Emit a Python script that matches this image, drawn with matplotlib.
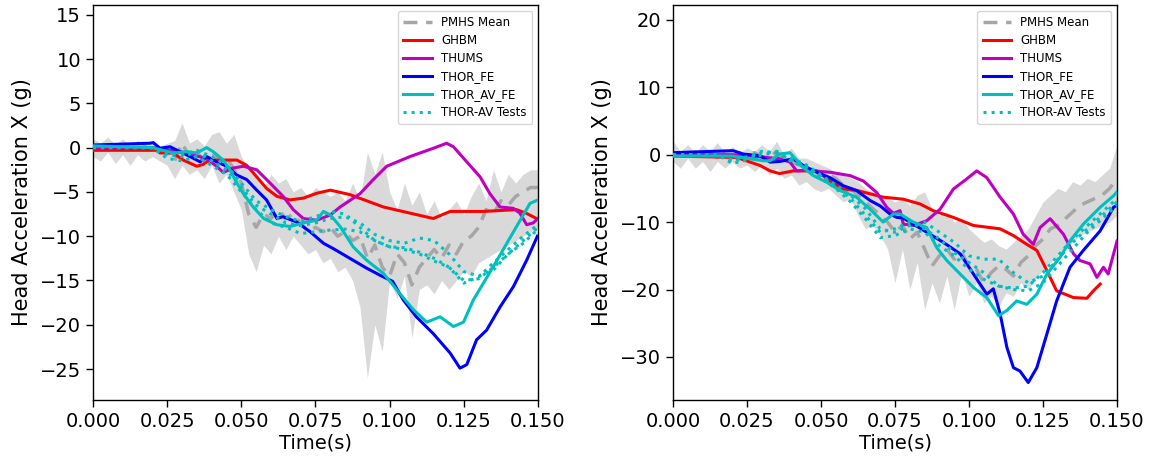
import numpy as np
import matplotlib
matplotlib.use("Agg")
import matplotlib.pyplot as plt

# ---------------- common ----------------
band_t = np.round(np.arange(0, 0.15001, 0.0025), 4)
test_t = np.round(np.arange(0, 0.15001, 0.005), 4)

# ---------------- LEFT PANEL ----------------
L_band_hi = [1.0, 0.5, 1.2, 0.3, 1.0, 0.2, 0.8, 0.3, 0.6, 0.2, 0.5, 0.8, 2.8, 0.5, 1.0, 0.2,
             1.5, 1.8, 0.5, 1.5, -1.0, -2.5, -3.0, -4.5, -3.0, -4.0, -3.5, -5.0, -4.5, -5.5,
             -4.5, -5.0, -5.5, -5.0, -6.0, -4.0, -6.0, -0.5, -3.0, -0.5, -5.0, -7.0, -4.0,
             -6.5, -5.0, -7.5, -6.0, -8.0, -7.0, -6.0, -7.5, -5.5, -4.0, -6.0, -2.5, -5.0,
             -3.0, -4.0, -3.0, -2.5, -2.5]
L_band_lo = [-1.0, -1.5, -0.5, -1.8, -0.8, -2.0, -0.8, -1.5, -1.0, -1.5, -2.0, -3.5, -2.0,
             -3.0, -2.5, -3.5, -2.0, -4.0, -3.0, -5.0, -7.0, -12.0, -14.0, -11.0, -12.0,
             -10.0, -11.5, -10.0, -11.0, -12.0, -11.5, -13.0, -12.5, -14.0, -13.5, -15.0,
             -18.0, -26.0, -20.0, -23.0, -15.0, -17.0, -14.5, -21.5, -16.0, -15.5, -16.5,
             -15.0, -16.0, -15.0, -14.0, -14.5, -13.0, -12.5, -12.0, -11.5, -11.0, -10.5,
             -10.0, -9.5, -9.0]
L_mean = [0.0, 0.2, -0.2, 0.1, -0.2, 0.2, -0.1, 0.1, -0.2, -0.3, -0.5, -1.5, 0.5, -1.0,
          -0.5, -1.5, -0.5, -1.5, -1.0, -2.5, -4.0, -7.5, -9.0, -7.5, -8.0, -7.0, -8.0,
          -7.5, -8.5, -9.5, -9.0, -9.5, -9.0, -10.0, -9.5, -10.5, -10.0, -12.5, -11.0,
          -13.5, -14.5, -12.0, -13.0, -15.5, -13.5, -12.5, -11.5, -12.5, -11.0, -12.0,
          -10.5, -10.0, -9.0, -7.0, -7.5, -6.0, -6.5, -5.5, -5.0, -4.5, -4.5]

L_ghbm_t = [0, 0.01, 0.0215, 0.0226, 0.027, 0.0304, 0.035, 0.037, 0.0394, 0.0438, 0.0485,
            0.0518, 0.0552, 0.0585, 0.062, 0.0664, 0.0709, 0.0754, 0.080, 0.0866, 0.0979,
            0.1147, 0.1204, 0.1316, 0.1428, 0.146, 0.1495]
L_ghbm_y = [-0.3, -0.3, -0.3, -0.6, -0.6, -1.4, -2.1, -1.9, -1.4, -1.4, -1.4, -2.0, -3.3,
            -4.6, -5.5, -5.9, -5.7, -5.15, -4.8, -5.3, -6.7, -8.0, -7.2, -7.2, -7.0, -7.4, -8.0]

L_thums_t = [0, 0.02, 0.03, 0.038, 0.0417, 0.0439, 0.0473, 0.0507, 0.0552, 0.0597, 0.0641,
             0.0675, 0.0709, 0.0754, 0.080, 0.0833, 0.090, 0.0945, 0.099, 0.1069, 0.1147,
             0.1192, 0.1215, 0.126, 0.1305, 0.1338, 0.1372, 0.1417, 0.1439, 0.1462, 0.1484, 0.150]
L_thums_y = [0, 0, -0.5, -1.2, -2.1, -2.8, -2.3, -2.1, -2.5, -4.0, -5.5, -7.0, -8.0, -8.2,
             -7.6, -6.7, -5.2, -3.6, -2.1, -1.0, -0.07, 0.5, 0.1, -1.6, -3.3, -5.2, -6.7,
             -6.85, -7.4, -8.7, -8.5, -8.0]

L_fe_t = [0, 0.0192, 0.0203, 0.0226, 0.026, 0.0293, 0.0327, 0.0361, 0.0383, 0.0417, 0.0451,
          0.0485, 0.0518, 0.0552, 0.0585, 0.062, 0.064, 0.0687, 0.0732, 0.0777, 0.081,
          0.0866, 0.0922, 0.0967, 0.101, 0.1046, 0.109, 0.1147, 0.1204, 0.1237, 0.126,
          0.1293, 0.1327, 0.1372, 0.1417, 0.1462, 0.1498]
L_fe_y = [0.3, 0.5, 0.57, -0.07, 0.1, -0.45, -1.0, -1.6, -1.0, -1.6, -2.1, -3.1, -3.6, -4.8,
          -5.9, -8.0, -7.8, -8.4, -9.5, -10.8, -11.4, -12.5, -13.6, -14.4, -15.1, -17.2,
          -19.1, -21.0, -23.2, -24.9, -24.5, -21.7, -20.6, -18.0, -15.7, -12.7, -10.0]

L_av_t = [0, 0.02, 0.027, 0.0315, 0.035, 0.0383, 0.0405, 0.0439, 0.0462, 0.0485, 0.0507,
          0.054, 0.0575, 0.062, 0.0664, 0.0709, 0.0754, 0.0777, 0.080, 0.0833, 0.0877,
          0.0922, 0.0979, 0.1035, 0.108, 0.1125, 0.117, 0.1215, 0.1249, 0.1282, 0.1316,
          0.135, 0.1395, 0.144, 0.1473, 0.150]
L_av_y = [0.2, 0.0, -0.6, -0.45, -0.6, 0.0, -0.45, -1.4, -2.5, -4.0, -5.2, -6.7, -8.0, -8.7,
          -8.9, -8.5, -8.2, -7.2, -7.6, -8.9, -11.2, -12.7, -14.2, -16.5, -18.3, -19.7,
          -19.1, -20.2, -19.7, -17.2, -15.3, -13.4, -10.8, -8.2, -6.3, -5.9]

L_test1 = [0, 0, 0, 0, 0, -0.8, -1.0, -0.5, -1.5, -2.5, -4.5, -6.5, -7.5, -8.5, -8.8, -8.5,
           -8.0, -7.8, -8.5, -9.8, -10.5, -10.8, -10.2, -10.5, -12.0, -14.0, -14.5, -13.8,
           -12.0, -10.5, -9.0]
L_test2 = [0, 0, 0, 0, 0, -1.2, -1.5, -1.0, -2.0, -3.0, -5.0, -7.0, -8.5, -9.0, -9.7, -9.5,
           -9.3, -9.2, -9.5, -10.5, -11.2, -11.5, -12.0, -12.8, -13.5, -15.0, -14.8, -13.5,
           -12.0, -10.8, -9.2]
L_test3 = [0, 0, 0, 0, 0, -0.5, -0.8, -0.3, -1.0, -2.0, -4.0, -6.0, -7.0, -7.8, -8.3, -7.8,
           -7.2, -7.5, -9.0, -10.5, -11.2, -11.3, -11.8, -12.5, -13.5, -15.3, -14.6, -13.0,
           -11.5, -10.0, -8.7]

# ---------------- RIGHT PANEL ----------------
R_band_hi = [2.0, 0.5, 1.5, 0.3, 1.5, 0.5, 1.8, 0.3, 1.2, 0.3, 1.0, 0.5, 1.5, 0.5, 2.0, 0.0,
             1.0, -0.5, -0.5, -1.0, -1.5, -2.0, -2.5, -3.0, -3.5, -4.0, -5.0, -5.5, -6.0,
             -6.5, -7.0, -6.5, -7.5, -6.0, -5.5, -8.0, -9.0, -8.5, -10.0, -9.5, -11.0, -12.0,
             -13.0, -12.5, -13.5, -14.0, -13.0, -12.0, -11.0, -9.0, -7.0, -6.0, -5.0, -5.5,
             -4.0, -4.5, -3.5, -4.0, -3.0, -2.0, 1.5]
R_band_lo = [-1.0, -2.0, -0.5, -2.0, -1.0, -2.5, -1.0, -2.0, -1.0, -2.0, -1.5, -2.5, -1.5,
             -3.0, -2.0, -3.5, -3.0, -4.5, -4.0, -5.0, -5.5, -5.0, -6.0, -7.0, -6.5, -9.0,
             -11.0, -10.5, -12.0, -14.0, -19.0, -14.0, -20.0, -16.0, -23.0, -19.0, -22.0,
             -18.0, -23.0, -17.5, -21.0, -19.0, -22.0, -21.0, -22.5, -20.5, -21.0, -19.0,
             -20.0, -18.5, -17.0, -16.0, -15.0, -14.0, -13.0, -12.0, -11.5, -11.0, -10.5,
             -10.0, -9.0]
R_mean = [0.0, 0.3, -0.3, 0.4, -0.2, 0.3, -0.4, 0.2, -0.3, 0.3, -0.2, 0.3, -0.3, -0.5, 0.5,
          -1.0, -1.0, -1.5, -2.0, -2.5, -3.0, -3.0, -3.5, -4.5, -5.0, -6.0, -7.0, -8.0, -9.0,
          -10.0, -11.5, -10.5, -12.5, -11.5, -14.0, -16.5, -15.0, -14.0, -15.5, -14.5,
          -16.5, -17.0, -19.0, -17.5, -16.5, -17.0, -18.0, -16.0, -15.0, -13.5, -12.5,
          -11.0, -10.5, -9.5, -8.5, -7.5, -7.0, -6.5, -6.0, -5.0, -3.5]

R_ghbm_t = [0, 0.0215, 0.0294, 0.0328, 0.036, 0.0406, 0.0486, 0.053, 0.0575, 0.0621, 0.0666,
            0.071, 0.0778, 0.0834, 0.0879, 0.0947, 0.1015, 0.1105, 0.115, 0.1195, 0.1229,
            0.1263, 0.1296, 0.1353, 0.1398, 0.142, 0.1443]
R_ghbm_y = [-0.2, -0.4, -1.6, -2.4, -2.8, -2.4, -2.4, -3.9, -5.1, -5.3, -5.8, -6.3, -6.6,
            -7.3, -8.3, -9.3, -10.5, -11.0, -12.0, -13.3, -14.2, -17.2, -20.2, -21.2, -21.3,
            -20.2, -19.2]

R_thums_t = [0, 0.02, 0.029, 0.036, 0.0395, 0.0418, 0.045, 0.053, 0.0598, 0.0643, 0.0688,
             0.0722, 0.0745, 0.0767, 0.0778, 0.0812, 0.0857, 0.0902, 0.0947, 0.0992, 0.1026,
             0.106, 0.1105, 0.115, 0.1183, 0.1217, 0.124, 0.1274, 0.1319, 0.1353, 0.1375,
             0.1409, 0.1432, 0.1454, 0.147, 0.150]
R_thums_y = [0, 0, -0.3, -0.6, -1.1, -2.4, -2.3, -2.6, -3.1, -3.9, -5.6, -7.8, -8.7, -8.3,
             -10.3, -10.5, -9.8, -8.1, -5.1, -3.6, -2.4, -3.4, -6.3, -8.8, -11.8, -13.3,
             -10.8, -9.5, -11.8, -14.7, -15.7, -16.2, -18.2, -16.7, -17.7, -12.8]

R_fe_t = [0, 0.0203, 0.0237, 0.0294, 0.0328, 0.0361, 0.0406, 0.044, 0.0486, 0.053, 0.0575,
          0.062, 0.0666, 0.07, 0.0733, 0.0756, 0.0778, 0.0812, 0.0857, 0.0913, 0.097, 0.1015,
          0.106, 0.1082, 0.1105, 0.1128, 0.115, 0.1172, 0.12, 0.1229, 0.1263, 0.1296, 0.1341,
          0.1386, 0.1443, 0.1488, 0.150]
R_fe_y = [0.3, 0.6, 0.1, -0.15, -1.1, -1.0, -0.6, -1.6, -2.6, -3.4, -4.6, -5.3, -6.8, -7.6,
          -8.8, -9.3, -9.4, -10.3, -11.5, -13.0, -14.7, -17.7, -20.7, -19.9, -23.6, -28.6,
          -31.6, -32.1, -33.8, -31.6, -26.6, -21.7, -16.7, -14.2, -11.3, -7.8, -7.5]

R_av_t = [0, 0.02, 0.0305, 0.0328, 0.036, 0.0395, 0.0418, 0.044, 0.0474, 0.052, 0.0564,
          0.062, 0.0666, 0.071, 0.0744, 0.0767, 0.0812, 0.0857, 0.0891, 0.0925, 0.097,
          0.1015, 0.106, 0.11, 0.1128, 0.1161, 0.1195, 0.1229, 0.1263, 0.1308, 0.1341,
          0.1386, 0.1443, 0.1488, 0.150]
R_av_y = [-0.2, -0.2, -0.9, -0.9, 0.1, 0.3, -0.8, -1.9, -3.1, -4.1, -5.3, -6.3, -8.1, -10.0,
          -8.8, -8.8, -10.0, -10.8, -13.8, -15.7, -17.7, -19.7, -21.2, -23.9, -23.1, -21.7,
          -22.2, -20.7, -17.7, -15.2, -12.8, -10.3, -7.8, -6.1, -5.5]

R_test1 = [0, 0, 0, 0, -1.0, -0.5, 0.3, 0.5, -0.5, -1.5, -3.0, -4.5, -6.0, -8.0, -11.0,
           -11.5, -10.5, -10.0, -11.5, -13.0, -15.0, -15.5, -15.5, -17.5, -19.0, -18.0,
           -15.5, -13.0, -11.0, -9.0, -7.0]
R_test2 = [0, 0, 0, 0, -1.3, -0.8, 0.0, 0.3, -1.0, -2.0, -3.5, -5.0, -7.0, -9.5, -12.3,
           -12.0, -11.0, -11.5, -13.5, -15.0, -17.0, -18.5, -19.5, -20.0, -20.2, -19.0,
           -16.5, -14.0, -11.5, -9.5, -7.5]
R_test3 = [0, 0, 0, 0, -0.8, -0.3, 0.5, 0.2, -0.8, -1.8, -3.2, -4.8, -6.5, -9.0, -11.5,
           -11.0, -10.0, -11.0, -12.5, -14.5, -16.0, -17.5, -19.5, -19.8, -19.5, -17.5,
           -15.0, -12.5, -10.5, -8.5, -6.5]

labels = ["PMHS Mean", "GHBM", "THUMS", "THOR_FE", "THOR_AV_FE", "THOR-AV Tests"]
xticks = [0.000, 0.025, 0.050, 0.075, 0.100, 0.125, 0.150]

C_BAND = "#d9d9d9"
C_MEAN = "#a6a6a6"
C_RED = "#ff0000"
C_MAG = "#bf00bf"
C_BLUE = "#0000ff"
C_CYAN = "#00bfbf"
LW = 2.2

fig = plt.figure(figsize=(11.51, 4.63), dpi=100)
axL = fig.add_axes([0.0808, 0.136, 0.3866, 0.853])
axR = fig.add_axes([0.5847, 0.136, 0.3858, 0.853])


def draw(ax, hi, lo, mean, ghbm, thums, fe, av, tests, ylim, yticks):
    ax.fill_between(band_t, lo, hi, color=C_BAND, lw=0, zorder=1)
    ax.plot(band_t, mean, color=C_MEAN, lw=2.5, ls=(0, (4, 2.5)), zorder=2, label=labels[0])
    ax.plot(*ghbm, color=C_RED, lw=LW, zorder=3, label=labels[1])
    ax.plot(*thums, color=C_MAG, lw=LW, zorder=3, label=labels[2])
    ax.plot(*fe, color=C_BLUE, lw=LW, zorder=3, label=labels[3])
    ax.plot(*av, color=C_CYAN, lw=LW, zorder=4, label=labels[4])
    for i, tr in enumerate(tests):
        ax.plot(test_t, tr, color=C_CYAN, lw=2.2, ls=":", zorder=4,
                label=labels[5] if i == 0 else None)
    ax.set_xlim(0, 0.15)
    ax.set_ylim(*ylim)
    ax.set_xticks(xticks)
    ax.set_xticklabels([f"{v:.3f}" for v in xticks])
    ax.set_yticks(yticks)
    ax.set_yticklabels([f"{v:d}".replace("-", "\u2212") for v in yticks])
    ax.tick_params(labelsize=14, length=5, width=1)
    ax.set_xlabel("Time(s)", fontsize=14, labelpad=2)
    ax.set_ylabel("Head Acceleration X (g)", fontsize=15, labelpad=6)
    ax.legend(loc="upper right", fontsize=8.5, handlelength=2.4, labelspacing=0.42,
              borderpad=0.45, framealpha=0.8, edgecolor="#cccccc")
    for s in ax.spines.values():
        s.set_linewidth(1.0)


draw(axL, L_band_hi, L_band_lo, L_mean,
     (L_ghbm_t, L_ghbm_y), (L_thums_t, L_thums_y), (L_fe_t, L_fe_y), (L_av_t, L_av_y),
     [L_test1, L_test2, L_test3], (-28.5, 16.1), [-25, -20, -15, -10, -5, 0, 5, 10, 15])
draw(axR, R_band_hi, R_band_lo, R_mean,
     (R_ghbm_t, R_ghbm_y), (R_thums_t, R_thums_y), (R_fe_t, R_fe_y), (R_av_t, R_av_y),
     [R_test1, R_test2, R_test3], (-36.4, 22.2), [-30, -20, -10, 0, 10, 20])

fig.savefig("out.png", dpi=100)
